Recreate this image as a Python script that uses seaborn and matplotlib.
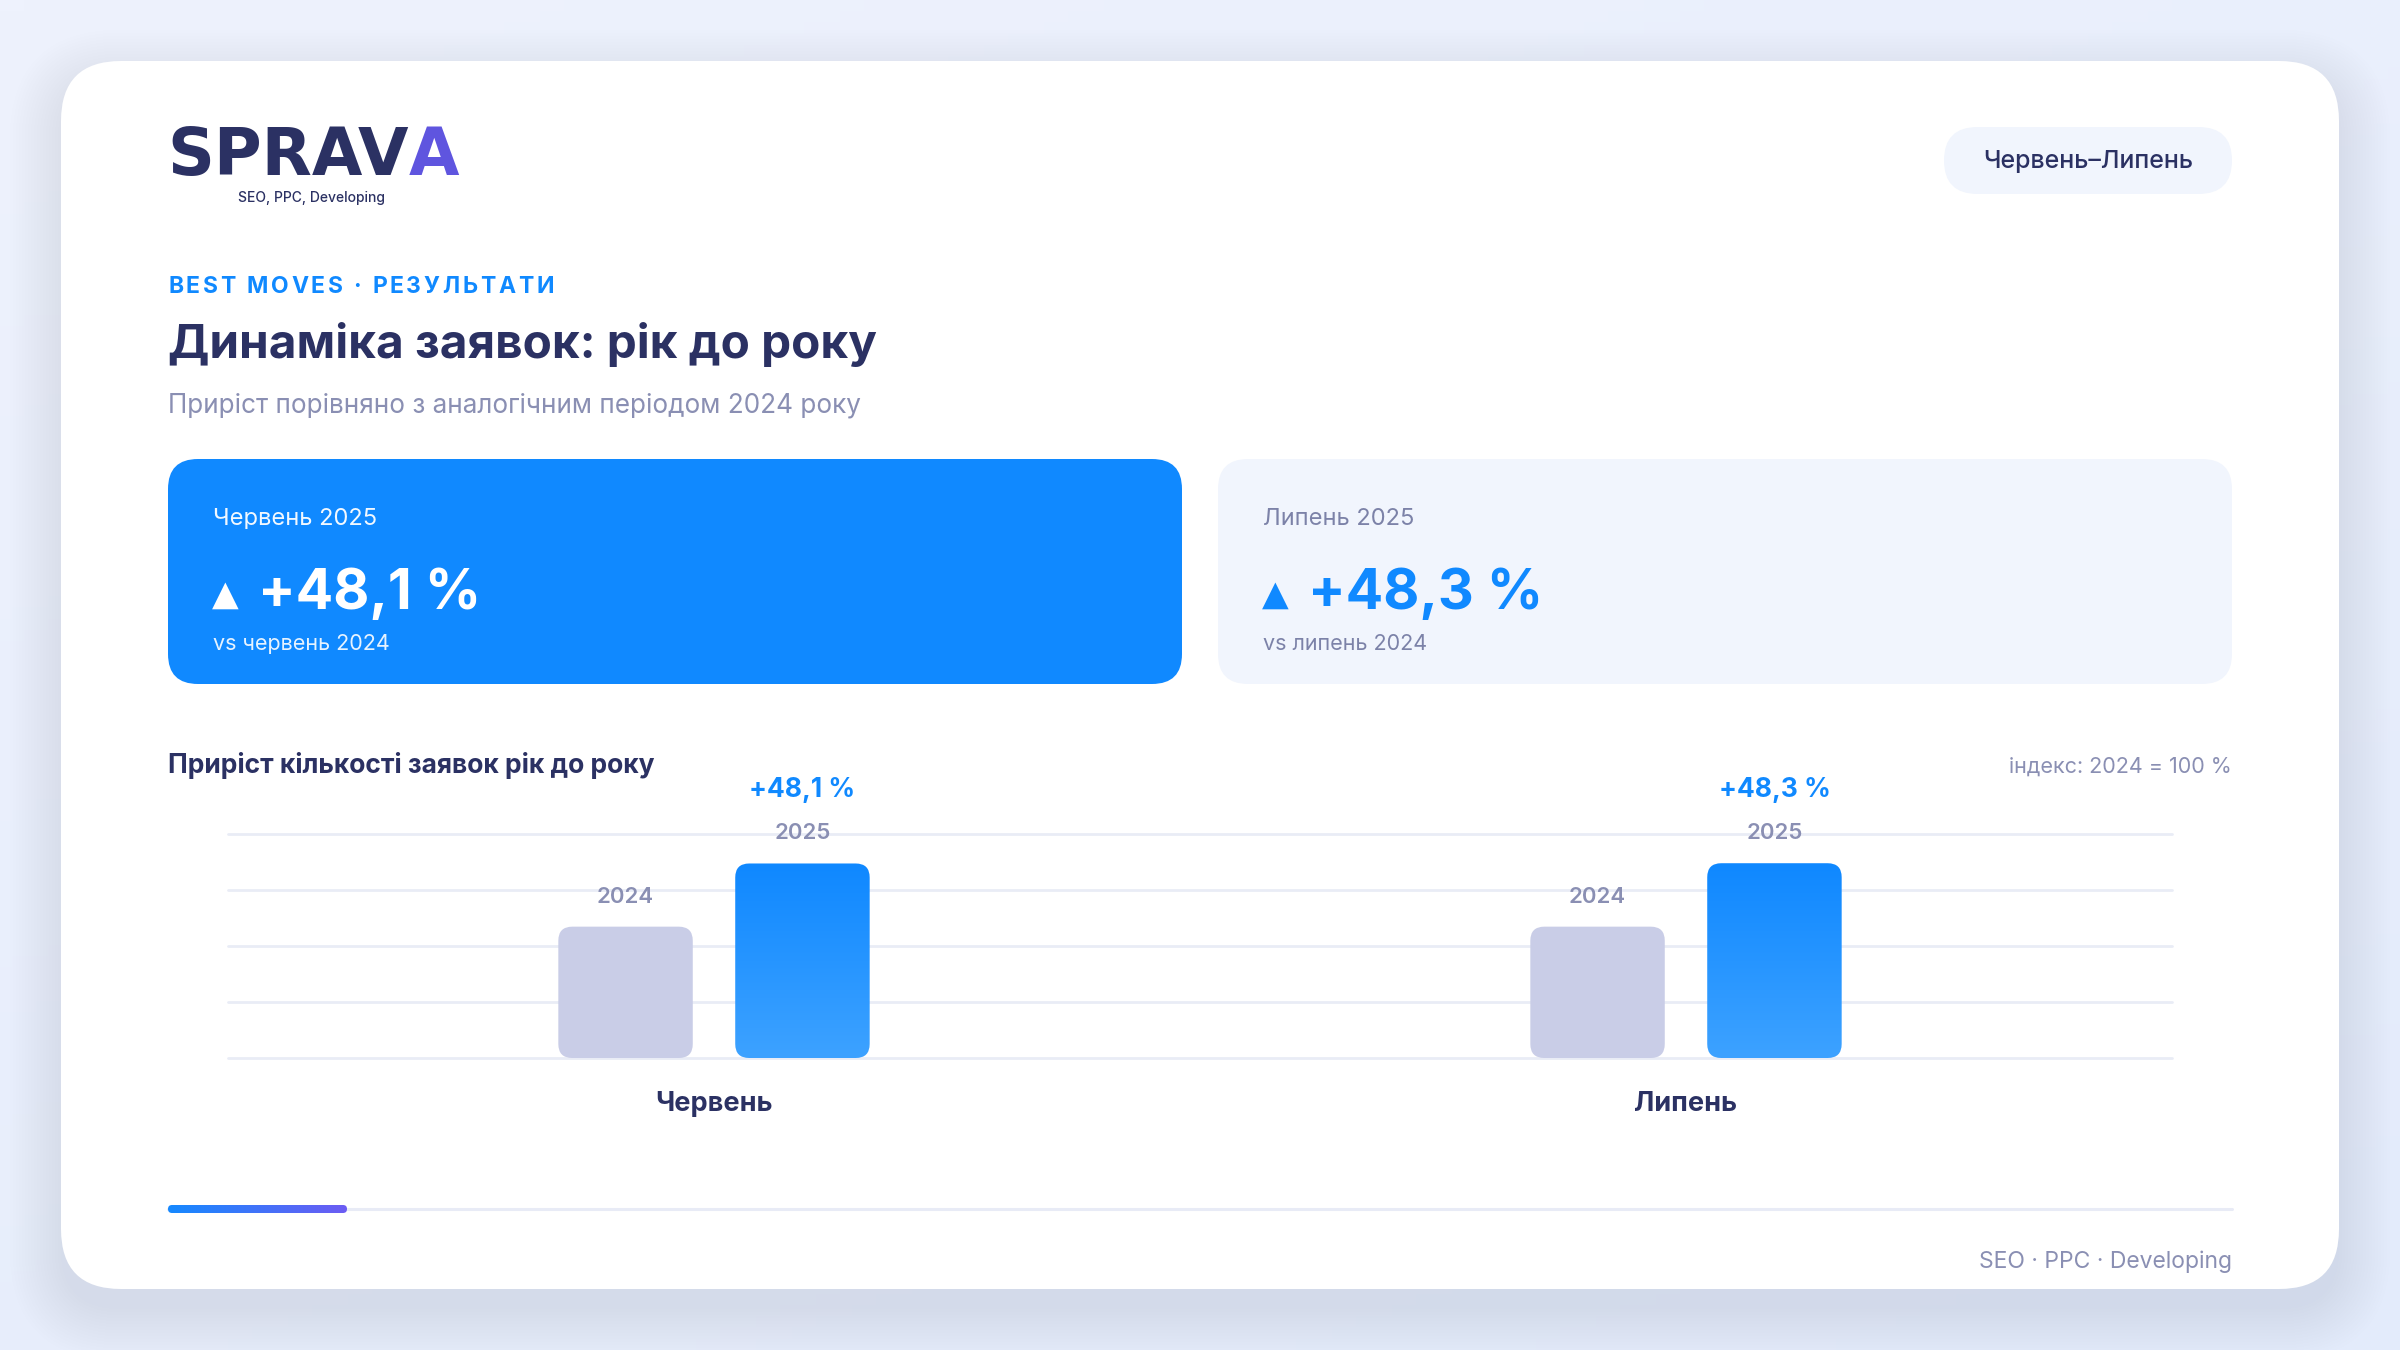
import numpy as np
import pandas as pd
import matplotlib
matplotlib.use("Agg")
import matplotlib.pyplot as plt
import seaborn as sns
from matplotlib.patches import FancyBboxPatch
from matplotlib.colors import LinearSegmentedColormap
from matplotlib.font_manager import FontProperties

# ---------------- data ----------------
months = ["Червень", "Липень"]
years = ["2024", "2025"]
index_2024 = [100.0, 100.0]
index_2025 = [148.1, 148.3]
card_titles = ["Червень 2025", "Липень 2025"]
card_subs = ["vs червень 2024", "vs липень 2024"]
period_label = "Червень–Липень"
kicker = "BEST MOVES · РЕЗУЛЬТАТИ"
title = "Динаміка заявок: рік до року"
subtitle = "Приріст порівняно з аналогічним періодом 2024 року"
chart_title = "Приріст кількості заявок рік до року"
index_note = "індекс: 2024 = 100 %"
footer = "SEO · PPC · Developing"
tagline = "SEO, PPC, Developing"

# ---------------- style ----------------
NAVY = "#2B3163"
GREY = "#8A8FB3"
BLUE = "#1089FF"
C2024 = "#C9CDE7"
GRID = "#E9ECF6"
SOFT = "#F1F5FD"
FAM = ["Inter", "DejaVu Sans"]

sns.set_theme(style="white")
plt.rcParams['font.family'] = FAM

W, H = 2400, 1350
fig = plt.figure(figsize=(24, 13.5), dpi=100)
bg = fig.add_axes([0, 0, 1, 1], zorder=0)
bg.set_xlim(0, W)
bg.set_ylim(H, 0)
bg.axis('off')

# background gradient
gx, gy = np.meshgrid(np.linspace(0, 1, 200), np.linspace(0, 1, 120))
bg_cmap = LinearSegmentedColormap.from_list("bgc", ["#EEF2FD", "#E3EBFB"])
bg.imshow(0.4 * gx + 0.6 * gy, extent=(0, W, H, 0), cmap=bg_cmap, aspect='auto', zorder=0)

# card shadow
for i in range(18):
    e = i * 3.0
    bg.add_patch(FancyBboxPatch((61 - e, 61 - e + 20), 2278 + 2 * e, 1228 + 2 * e,
                                boxstyle=f"round,pad=0,rounding_size={60 + e}",
                                fc="#B4C4EA", ec="none", alpha=0.016, zorder=1))
# main card
bg.add_patch(FancyBboxPatch((61, 61), 2278, 1228, boxstyle="round,pad=0,rounding_size=60",
                            fc="white", ec="none", zorder=2))


def T(x, y, s, size, color, weight="normal", ha="left", va="baseline", **kw):
    return bg.text(x, y, s, fontsize=size, color=color, fontweight=weight, ha=ha, va=va,
                   zorder=5, **kw)


renderer = fig.canvas.get_renderer()

# logo
LOGO_FAM = ["DejaVu Sans"]
T(167, 175, "SPRAV", 47, NAVY, weight="bold", family=LOGO_FAM)
fp_logo = FontProperties(family=LOGO_FAM, weight="bold", size=47)
wl, _, _ = renderer.get_text_width_height_descent("SPRAV", fp_logo, ismath=False)
T(167 + wl, 175, "A", 47, "#5F55DF", weight="bold", family=LOGO_FAM)
T(312, 202, tagline, 10, NAVY, weight="medium", ha="center")

# pill
bg.add_patch(FancyBboxPatch((1944, 127), 288, 67, boxstyle="round,pad=0,rounding_size=33.5",
                            fc=SOFT, ec="none", zorder=3))
T(2088, 168, period_label, 18, NAVY, weight="medium", ha="center")

# kicker with letter spacing
fp_k = FontProperties(family=FAM, weight="bold", size=16.5)
wk, _, _ = renderer.get_text_width_height_descent(kicker, fp_k, ismath=False)
track = (386 - wk) / (len(kicker) - 1)
for i, ch in enumerate(kicker):
    off = 0.0
    if i > 0:
        off, _, _ = renderer.get_text_width_height_descent(kicker[:i], fp_k, ismath=False)
    T(168 + off + i * track, 293, ch, 16.5, BLUE, weight="bold")

T(168, 358, title, 34.3, NAVY, weight="bold")
T(168, 413, subtitle, 18.8, GREY)

# KPI cards
deltas = [(b / a - 1) * 100 for a, b in zip(index_2024, index_2025)]
delta_txt = ["+" + f"{d:.1f}".replace(".", ",") + " %" for d in deltas]
for k in range(2):
    x0 = 168 + k * 1050
    fc = BLUE if k == 0 else SOFT
    bg.add_patch(FancyBboxPatch((x0, 459), 1014, 225, boxstyle="round,pad=0,rounding_size=30",
                                fc=fc, ec="none", zorder=3))
    c_lab = "white" if k == 0 else "#7C82A8"
    c_val = "white" if k == 0 else BLUE
    T(x0 + 45, 525, card_titles[k], 17, c_lab, alpha=0.95 if k == 0 else 1)
    T(x0 + 44, 605, "▲", 25, c_val, family=["DejaVu Sans"])
    T(x0 + 90, 609, delta_txt[k], 40, c_val, weight="bold")
    T(x0 + 45, 650, card_subs[k], 15.5, c_lab, alpha=0.9 if k == 0 else 1)

T(168, 773, chart_title, 19, NAVY, weight="bold")
T(2232, 773, index_note, 15.5, GREY, ha="right")

# progress line
bg.plot([168, 2232], [1209, 1209], color="#E8EBF6", lw=2.2, solid_capstyle="round", zorder=3)
seg = FancyBboxPatch((168, 1205), 179, 8, boxstyle="round,pad=0,rounding_size=4",
                     fc="none", ec="none", zorder=4)
bg.add_patch(seg)
pg_cmap = LinearSegmentedColormap.from_list("pg", ["#1589FF", "#6C5CF3"])
im = bg.imshow(np.linspace(0, 1, 256).reshape(1, -1), extent=(168, 347, 1213, 1205),
               cmap=pg_cmap, aspect='auto', zorder=4)
im.set_clip_path(seg)
bg.set_xlim(0, W)
bg.set_ylim(H, 0)

T(2232, 1268, footer, 16.5, GREY, ha="right")

# ---------------- chart ----------------
ax = fig.add_axes([228 / W, 1 - 1058 / H, (2172 - 228) / W, (1058 - 834) / H], zorder=1)
ax.patch.set_alpha(0)
df = pd.DataFrame({
    "month": months * 2,
    "year": [years[0]] * len(months) + [years[1]] * len(months),
    "value": index_2024 + index_2025,
})
sns.barplot(data=df, x="month", y="value", hue="year", order=months, hue_order=years,
            palette={years[0]: C2024, years[1]: BLUE}, saturation=1, width=0.364, gap=0.24,
            legend=False, ax=ax)
ymax = 1.15 * max(index_2024 + index_2025)
ax.set_xlim(-0.5, len(months) - 0.5)
ax.set_ylim(0, ymax)
ax.set_yticks(np.linspace(0, ymax, 5))
ax.set_yticklabels([])
ax.grid(axis='y', color=GRID, lw=2)
ax.grid(axis='x', visible=False)
for gl in ax.get_ygridlines():
    gl.set_clip_on(False)
ax.set_axisbelow(True)
for sp in ax.spines.values():
    sp.set_visible(False)
ax.tick_params(axis='both', length=0)
ax.tick_params(axis='x', pad=24, labelsize=19.5, labelcolor=NAVY)
for lbl in ax.get_xticklabels():
    lbl.set_fontweight('bold')
ax.set_xlabel("")
ax.set_ylabel("")

p0 = ax.transData.transform((0, 0))
p1 = ax.transData.transform((1, 1))
sx, sy = p1[0] - p0[0], p1[1] - p0[1]
r_px = 14
bar_cmap = LinearSegmentedColormap.from_list("bar", ["#3DA2FF", "#0F88FF"])
bars = [p for p in ax.patches]
for b in bars:
    x, y, w, h = b.get_x(), b.get_y(), b.get_width(), b.get_height()
    cx = x + w / 2
    is_new = cx > round(cx)
    b.set_visible(False)
    rp = FancyBboxPatch((x, y), w, h, boxstyle=f"round,pad=0,rounding_size={r_px / sx}",
                        mutation_aspect=sx / sy, fc=(C2024 if not is_new else "none"),
                        ec="none", zorder=3)
    ax.add_patch(rp)
    if is_new:
        gi = ax.imshow(np.linspace(0, 1, 256).reshape(-1, 1), extent=(x, x + w, y, y + h),
                       origin='lower', cmap=bar_cmap, aspect='auto', zorder=3)
        gi.set_clip_path(rp)
        ax.annotate(years[1], (cx, h), xytext=(0, 24), textcoords='offset pixels',
                    ha='center', va='baseline', fontsize=16, color=GREY, fontweight='semibold')
        m = int(round(cx))
        ax.annotate(delta_txt[m], (cx, h), xytext=(0, 66), textcoords='offset pixels',
                    ha='center', va='baseline', fontsize=19, color=BLUE, fontweight='bold')
    else:
        ax.annotate(years[0], (cx, h), xytext=(0, 24), textcoords='offset pixels',
                    ha='center', va='baseline', fontsize=16, color=GREY, fontweight='semibold')

ax.set_xlim(-0.5, len(months) - 0.5)
ax.set_ylim(0, ymax)

fig.savefig("out.png", dpi=100)
